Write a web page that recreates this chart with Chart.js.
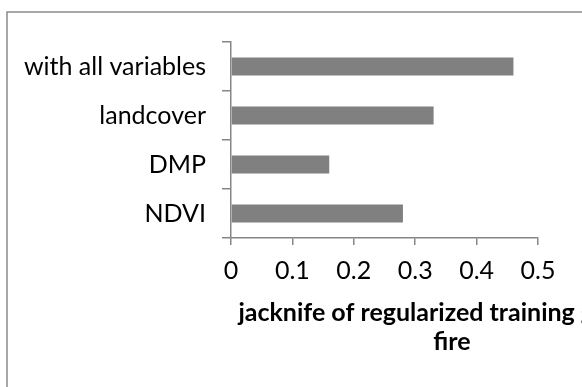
<!DOCTYPE html>
<html>
<head>
<meta charset="utf-8">
<script src="https://cdn.jsdelivr.net/npm/chart.js@4/dist/chart.umd.min.js"></script>
<style>
  html, body { margin: 0; padding: 0; background: #ffffff; overflow: hidden; }
  #wrap { position: relative; width: 582px; height: 387px; }
</style>
</head>
<body>
<div id="wrap"><canvas id="chart" width="582" height="387"></canvas></div>
<script>
// Jackknife results: gain per variable set
const categories = ['with all variables', 'landcover', 'DMP', 'NDVI'];
const gainValues = [0.46, 0.33, 0.16, 0.28];
const xTickValues = [0, 0.1, 0.2, 0.3, 0.4, 0.5];
const axisTitleLines = ['jacknife of regularized training gain for', 'fire'];

const FONT = 'Lato, "Open Sans", sans-serif';
const AXIS_GREY = '#868686';

// Outer chart frame (only the top and left edges fall inside the view)
const framePlugin = {
  id: 'frame',
  beforeDraw(chart) {
    const ctx = chart.ctx;
    ctx.save();
    ctx.strokeStyle = '#8a8a8a';
    ctx.lineWidth = 1.5;
    ctx.strokeRect(7, 12, chart.width + 20, chart.height + 20);
    ctx.restore();
  }
};

// Two-line bold title under the value axis
const axisTitlePlugin = {
  id: 'axisTitle',
  afterDraw(chart) {
    const ctx = chart.ctx;
    const area = chart.chartArea;
    const cx = area.left + 221;
    ctx.save();
    ctx.fillStyle = '#000000';
    ctx.font = 'bold 25px ' + FONT;
    ctx.textAlign = 'center';
    ctx.textBaseline = 'alphabetic';
    axisTitleLines.forEach((line, i) => {
      ctx.fillText(line, cx, area.bottom + 83 + i * 29);
    });
    ctx.restore();
  }
};

new Chart(document.getElementById('chart'), {
  type: 'bar',
  data: {
    labels: categories,
    datasets: [{
      data: gainValues,
      backgroundColor: '#808080',
      borderWidth: 0,
      categoryPercentage: 1,
      barPercentage: 0.37
    }]
  },
  options: {
    indexAxis: 'y',
    responsive: false,
    animation: false,
    events: [],
    layout: { padding: { top: 42, right: 44, bottom: 0, left: 0 } },
    plugins: {
      legend: { display: false },
      tooltip: { enabled: false },
      title: { display: false }
    },
    scales: {
      x: {
        type: 'linear',
        min: 0,
        max: 0.5,
        afterBuildTicks(scale) {
          scale.ticks = xTickValues.map(v => ({ value: v }));
        },
        afterFit(scale) { scale.height = 149; },
        grid: {
          display: true,
          drawOnChartArea: false,
          drawTicks: true,
          tickLength: 7,
          color: AXIS_GREY,
          lineWidth: 1.5
        },
        border: { display: true, color: AXIS_GREY, width: 1.5 },
        ticks: {
          color: '#000000',
          padding: 11,
          font: { family: FONT, size: 25 },
          callback: (v) => String(v)
        }
      },
      y: {
        type: 'category',
        afterFit(scale) { scale.width = 231; },
        grid: {
          display: true,
          offset: true,
          drawOnChartArea: false,
          drawTicks: true,
          tickLength: 9,
          color: AXIS_GREY,
          lineWidth: 1.5
        },
        border: { display: true, color: AXIS_GREY, width: 1.5 },
        ticks: {
          color: '#000000',
          padding: 16,
          font: { family: FONT, size: 25 }
        }
      }
    }
  },
  plugins: [framePlugin, axisTitlePlugin]
});
</script>
</body>
</html>
